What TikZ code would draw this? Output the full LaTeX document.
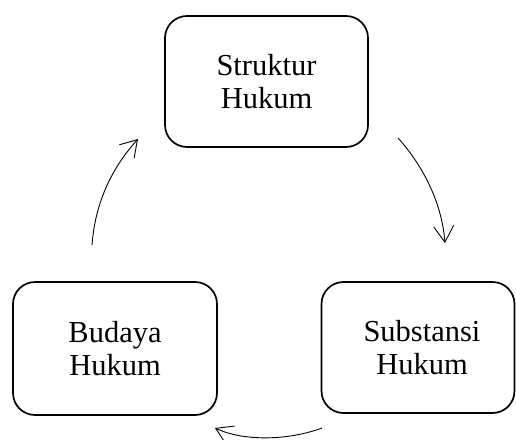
\documentclass[tikz,border=0pt]{standalone}
\usepackage{fontspec}
\setmainfont{Liberation Serif}
\usetikzlibrary{arrows.meta}
\begin{document}
\begin{tikzpicture}[x=1pt,y=-1pt,
  box/.style={draw, line width=1.7pt, rounded corners=22pt, align=center,
    font=\fontsize{30.5}{33}\selectfont, inner sep=0pt},
  cyc/.style={line width=0.9pt, -{Straight Barb[length=16pt,width=20pt,line width=0.9pt]}}]
\useasboundingbox (0,0) rectangle (516,439);
\node[box, minimum width=203pt, minimum height=131pt] (s) at (266.5,81.5) {Struktur\\Hukum};
\node[box, minimum width=204pt, minimum height=133pt] (b) at (115,348.5) {Budaya\\Hukum};
\node[box, minimum width=193pt, minimum height=131pt] (u) at (418,347.5) {};
\node[font=\fontsize{30.5}{33}\selectfont, align=center] (ut) at (422,347.5) {Substansi\\Hukum};
\coordinate (a1s) at (398,138);
\coordinate (a1e) at (445,243);
\coordinate (a2s) at (322,428);
\coordinate (a2e) at (215,428);
\coordinate (a3s) at (92,245);
\coordinate (a3e) at (138,139);
\draw[cyc] (a1s) .. controls (425,168) and (442,205) .. (a1e);
\draw[cyc] (a2s) .. controls (290,440) and (245,442) .. (a2e);
\draw[cyc] (a3s) .. controls (95,205) and (110,170) .. (a3e);
\end{tikzpicture}
\end{document}
